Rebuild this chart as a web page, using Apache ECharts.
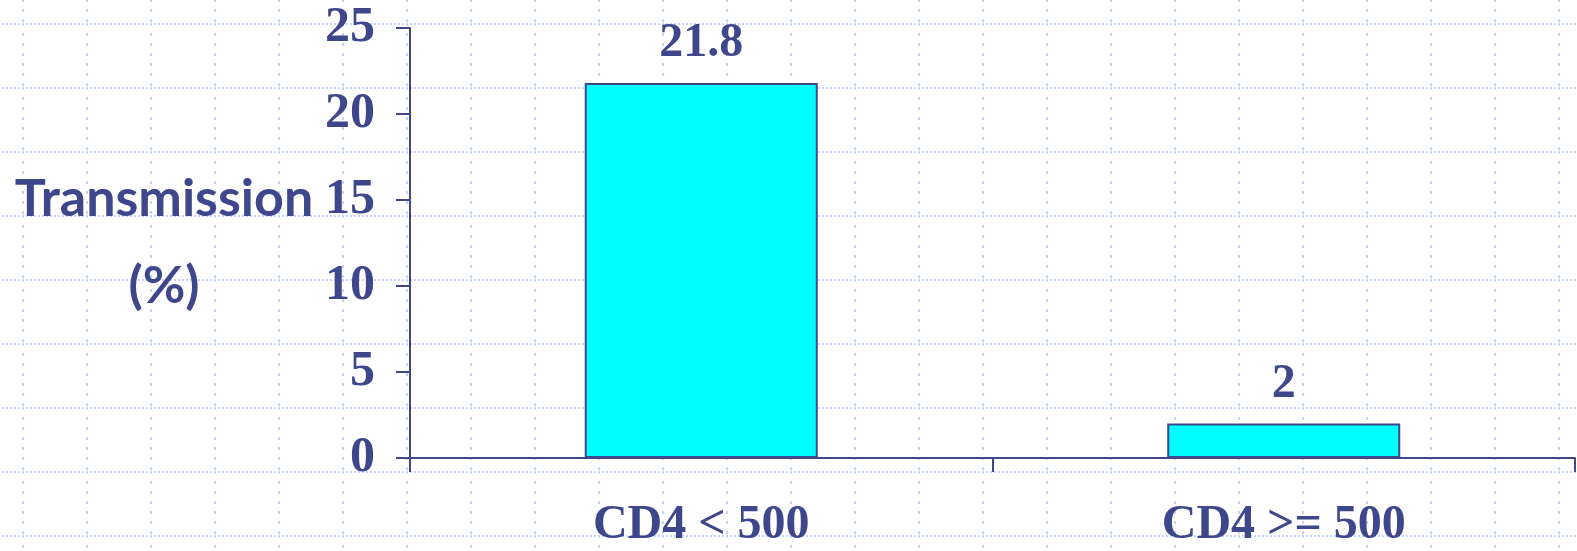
<!DOCTYPE html>
<html>
<head>
<meta charset="utf-8">
<script src="https://cdn.jsdelivr.net/npm/echarts@6/dist/echarts.min.js"></script>
<style>
  html, body { margin: 0; padding: 0; }
  #chart {
    width: 1577px;
    height: 551px;
    background-color: #fff;
    /* slide background: dotted blue squares */
    background-image: url("data:image/svg+xml;utf8,<svg xmlns='http://www.w3.org/2000/svg' width='64' height='64'><line x1='0' y1='1' x2='64' y2='1' stroke='%23c6d3f6' stroke-width='2' stroke-dasharray='2 2'/><line x1='1' y1='0' x2='1' y2='64' stroke='%23c6d3f6' stroke-width='2' stroke-dasharray='3 7'/></svg>");
    background-position: 22px 23px;
  }
</style>
</head>
<body>
<div id="chart"></div>
<script>
var categories = ['CD4 < 500', 'CD4 >= 500']
var transmission = [21.8, 2]
var yTicks = [0, 5, 10, 15, 20, 25]

var ink = '#3f478c'

var chart = echarts.init(document.getElementById('chart'))
chart.setOption({
  animation: false,
  grid: {
    left: 410,
    top: 28,
    width: 1165,
    height: 430
  },
  xAxis: {
    type: 'category',
    data: categories,
    axisLine: { lineStyle: { color: ink, width: 2 } },
    axisTick: { show: true, interval: 0, length: 14, lineStyle: { color: ink, width: 2 } },
    axisLabel: {
      margin: 44,
      color: ink,
      fontFamily: 'Liberation Serif',
      fontWeight: 'bold',
      fontSize: 48
    }
  },
  yAxis: {
    type: 'value',
    min: yTicks[0],
    max: yTicks[yTicks.length - 1],
    interval: 5,
    name: 'Transmission\n(%)',
    nameLocation: 'middle',
    nameRotate: 0,
    nameGap: 246,
    nameTextStyle: {
      align: 'center',
      color: ink,
      fontFamily: 'Lato',
      fontWeight: 'bold',
      fontSize: 52,
      lineHeight: 87
    },
    splitLine: { show: false },
    axisLine: { show: true, lineStyle: { color: ink, width: 2 } },
    axisTick: { show: true, length: 14, lineStyle: { color: ink, width: 2 } },
    axisLabel: {
      margin: 35,
      color: ink,
      fontFamily: 'Liberation Serif',
      fontWeight: 'bold',
      fontSize: 50
    }
  },
  series: [
    {
      type: 'bar',
      data: transmission,
      barWidth: '40%',
      itemStyle: {
        color: '#00ffff',
        borderColor: ink,
        borderWidth: 2
      },
      label: {
        show: true,
        position: 'top',
        distance: 15,
        color: ink,
        fontFamily: 'Liberation Serif',
        fontWeight: 'bold',
        fontSize: 48
      }
    }
  ]
})
</script>
</body>
</html>
